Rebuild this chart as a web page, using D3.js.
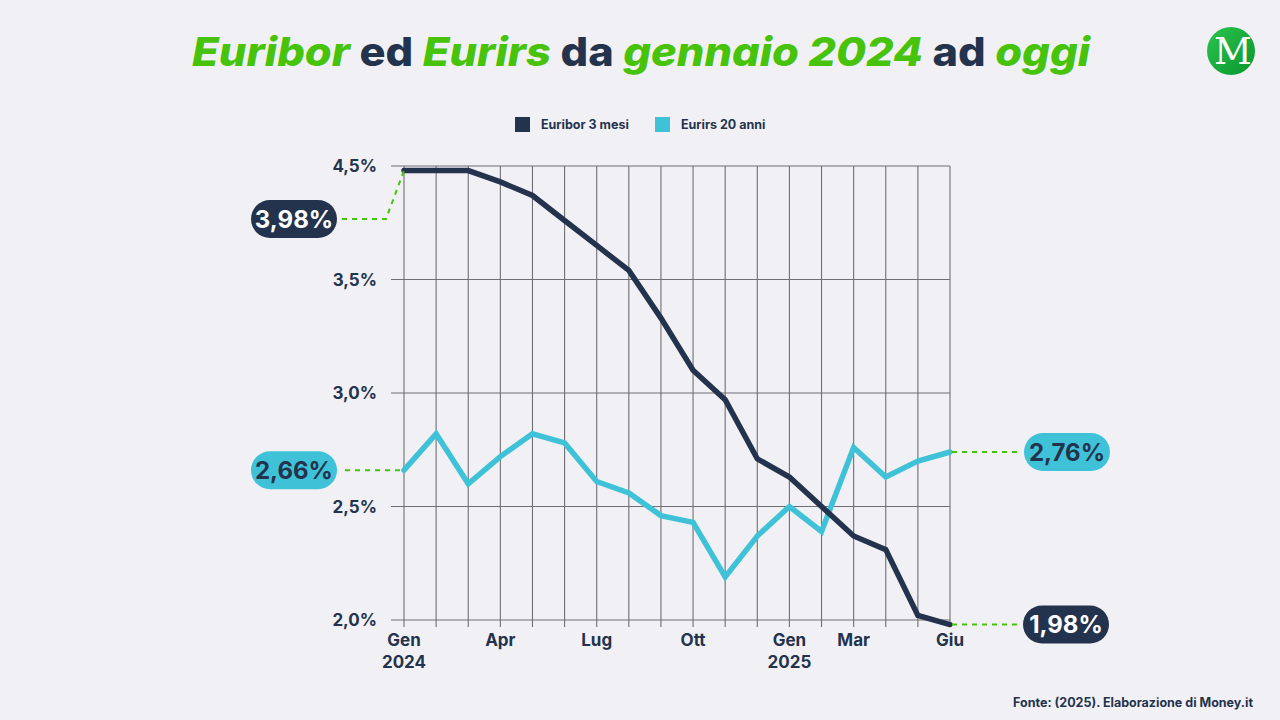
<!DOCTYPE html>
<html>
<head>
<meta charset="utf-8">
<script src="https://cdn.jsdelivr.net/npm/d3@7"></script>
<style>
  html, body { margin: 0; padding: 0; background: #f1f1f5; }
  svg { display: block; font-family: Inter, "Open Sans", sans-serif; }
</style>
</head>
<body>
<div id="chart"></div>
<script>
// months from Gen 2024 to Giu 2025
var months = ["Gen 2024","Feb","Mar","Apr","Mag","Giu","Lug","Ago","Set","Ott","Nov","Dic",
              "Gen 2025","Feb","Mar","Apr","Mag","Giu"];
var euribor = [3.98, 3.98, 3.98, 3.93, 3.87, 3.76, 3.65, 3.54, 3.33, 3.10, 2.97, 2.71,
               2.63, 2.50, 2.37, 2.31, 2.02, 1.98];
var eurirs = [2.66, 2.82, 2.60, 2.72, 2.82, 2.78, 2.61, 2.56, 2.46, 2.43, 2.19, 2.37,
              2.50, 2.39, 2.76, 2.63, 2.70, 2.74];
var yTicks = [2.0, 2.5, 3.0, 3.5, 4.0];
var yTickLabels = ["2,0%", "2,5%", "3,0%", "3,5%", "4,5%"];
var xLabelIdx = [0, 3, 6, 9, 12, 14, 17];
var xLabels = [["Gen", "2024"], ["Apr"], ["Lug"], ["Ott"], ["Gen", "2025"], ["Mar"], ["Giu"]];
var seriesNames = ["Euribor 3 mesi", "Eurirs 20 anni"];
var calloutText = ["3,98%", "2,66%", "2,76%", "1,98%"];

var width = 1280, height = 720;
var dark = "#24334d", blue = "#3fc2d7", green = "#46c30a";

var svg = d3.select("#chart").append("svg")
  .attr("width", width)
  .attr("height", height);

svg.append("rect").attr("width", width).attr("height", height).attr("fill", "#f1f1f5");

/*
 * Title.
 */
var titleParts = [
  ["Euribor", true], [" ed ", false], ["Eurirs", true], [" da ", false],
  ["gennaio 2024", true], [" ad ", false], ["oggi", true]
];
var title = svg.append("text")
  .attr("x", 641).attr("y", 66)
  .attr("text-anchor", "middle")
  .attr("font-size", 40)
  .attr("font-weight", 800)
  .attr("textLength", 898)
  .attr("lengthAdjust", "spacingAndGlyphs");
titleParts.forEach(function(p) {
  title.append("tspan")
    .attr("fill", p[1] ? green : dark)
    .attr("font-style", p[1] ? "italic" : "normal")
    .text(p[0]);
});

/*
 * Logo.
 */
var grad = svg.append("defs").append("linearGradient")
  .attr("id", "lg").attr("x1", 0).attr("y1", 0).attr("x2", 1).attr("y2", 1);
grad.append("stop").attr("offset", "0%").attr("stop-color", "#2cc44f");
grad.append("stop").attr("offset", "100%").attr("stop-color", "#08962c");
svg.append("circle").attr("cx", 1231).attr("cy", 51).attr("r", 24).attr("fill", "url(#lg)");
svg.append("text")
  .attr("x", 1233).attr("y", 64)
  .attr("text-anchor", "middle")
  .attr("font-family", "'DejaVu Serif', 'Liberation Serif', serif")
  .attr("font-size", 37)
  .attr("fill", "#fff")
  .text("M");

/*
 * Legend.
 */
var legendX = [515, 655];
seriesNames.forEach(function(name, i) {
  svg.append("rect")
    .attr("x", legendX[i]).attr("y", 117)
    .attr("width", 15).attr("height", 15)
    .attr("fill", i === 0 ? dark : blue);
  svg.append("text")
    .attr("x", legendX[i] + 26).attr("y", 129)
    .attr("font-size", 12.5).attr("font-weight", 700)
    .attr("fill", dark)
    .text(name);
});

/*
 * Scales.
 */
var x = d3.scaleLinear().domain([0, months.length - 1]).range([404, 950]);
var y = d3.scaleLinear().domain([2, 4]).range([620, 166]);

// grid
var grid = svg.append("g");
grid.selectAll(".vg")
  .data(months)
  .enter().append("line")
  .attr("x1", function(d, i) { return x(i); })
  .attr("x2", function(d, i) { return x(i); })
  .attr("y1", y(4)).attr("y2", y(2) + 7)
  .attr("stroke", "#6e6e74").attr("stroke-width", 1.1);
grid.selectAll(".hg")
  .data(yTicks)
  .enter().append("line")
  .attr("x1", 391).attr("x2", x(months.length - 1))
  .attr("y1", function(d) { return y(d); })
  .attr("y2", function(d) { return y(d); })
  .attr("stroke", "#6e6e74").attr("stroke-width", 1.1);

// y labels
svg.append("g").selectAll("text")
  .data(yTicks)
  .enter().append("text")
  .attr("x", 377)
  .attr("y", function(d) { return y(d) + 6; })
  .attr("text-anchor", "end")
  .attr("font-size", 17).attr("font-weight", 700)
  .attr("fill", dark)
  .text(function(d, i) { return yTickLabels[i]; });

// x labels
var xl = svg.append("g").selectAll("text")
  .data(xLabelIdx)
  .enter().append("text")
  .attr("text-anchor", "middle")
  .attr("font-size", 17).attr("font-weight", 700)
  .attr("fill", dark);
xl.each(function(d, i) {
  var t = d3.select(this);
  xLabels[i].forEach(function(s, j) {
    t.append("tspan")
      .attr("x", x(d))
      .attr("y", 646 + j * 22)
      .text(s);
  });
});

/*
 * Lines.
 */
var line = d3.line()
  .x(function(d, i) { return x(i); })
  .y(function(d) { return y(d); });

svg.append("path")
  .datum(eurirs)
  .attr("d", line)
  .attr("fill", "none")
  .attr("stroke", blue)
  .attr("stroke-width", 5.5)
  .attr("stroke-linejoin", "miter")
  .attr("stroke-linecap", "round");

svg.append("path")
  .datum(euribor)
  .attr("d", line)
  .attr("fill", "none")
  .attr("stroke", dark)
  .attr("stroke-width", 5.5)
  .attr("stroke-linejoin", "miter")
  .attr("stroke-linecap", "round");

/*
 * Callouts: dashed connectors and pills.
 */
var last = months.length - 1;
var callouts = [
  { text: calloutText[0], px: x(0), py: y(euribor[0]), cx: 294, cy: 219, fill: dark, color: "#fff", side: "left" },
  { text: calloutText[1], px: x(0), py: y(eurirs[0]), cx: 294, cy: y(eurirs[0]), fill: blue, color: dark, side: "left" },
  { text: calloutText[2], px: x(last), py: y(eurirs[last]), cx: 1067, cy: y(eurirs[last]), fill: blue, color: dark, side: "right" },
  { text: calloutText[3], px: x(last), py: y(euribor[last]), cx: 1066, cy: y(euribor[last]), fill: dark, color: "#fff", side: "right" }
];

callouts.forEach(function(c) {
  var pts;
  if (c.side === "left") {
    pts = [[c.cx + 48, c.cy], [c.px - 18, c.cy], [c.px, c.py]];
    if (c.cy === c.py) pts = [[c.cx + 51, c.cy], [c.px, c.py]];
  } else {
    pts = [[c.px + 2, c.py], [c.cx - 48, c.py]];
  }
  svg.append("path")
    .attr("d", d3.line()(pts))
    .attr("fill", "none")
    .attr("stroke", green)
    .attr("stroke-width", 2)
    .attr("stroke-dasharray", "5,5");

  svg.append("rect")
    .attr("x", c.cx - 43).attr("y", c.cy - 19)
    .attr("width", 86).attr("height", 38)
    .attr("rx", 19)
    .attr("fill", c.fill);
  svg.append("text")
    .attr("x", c.cx).attr("y", c.cy + 8.5)
    .attr("text-anchor", "middle")
    .attr("font-size", 24).attr("font-weight", 700)
    .attr("fill", c.color)
    .text(c.text);
});

/*
 * Source.
 */
svg.append("text")
  .attr("x", 1253).attr("y", 707)
  .attr("text-anchor", "end")
  .attr("font-size", 12.5).attr("font-weight", 700)
  .attr("fill", dark)
  .text("Fonte: (2025). Elaborazione di Money.it");
</script>
</body>
</html>
